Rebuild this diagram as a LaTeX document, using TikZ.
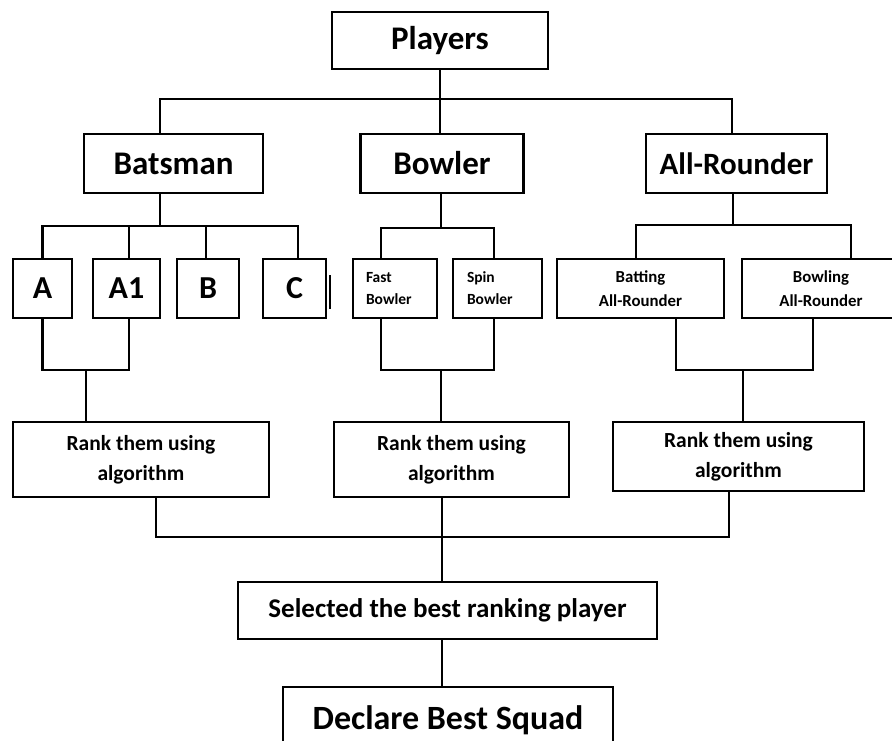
\documentclass[tikz,border=0pt]{standalone}
\usepackage{fontspec}
\setmainfont{Carlito}
\begin{document}
\begin{tikzpicture}[x=1pt,y=-1pt,
  box/.style={draw=black,line width=2.2pt,inner sep=0pt,fill=white,font=\bfseries},
  big/.style={box,font=\fontsize{33}{38}\selectfont\bfseries},
  rankbox/.style={box,align=center,font=\fontsize{21.5}{30}\selectfont\bfseries},
  smallbox/.style={box,align=left,font=\fontsize{15.5}{22}\selectfont\bfseries},
  arbox/.style={box,align=center,font=\fontsize{16.8}{24}\selectfont\bfseries},
  conn/.style={line width=2.2pt,line cap=rect}]
\fill[white] (0,0) rectangle (892,740);
\useasboundingbox (0,0) rectangle (892,740);

% level 0
\node[big,minimum width=216pt,minimum height=57pt] (players) at (440,40.5) {Players};
% level 1
\node[big,minimum width=179pt,minimum height=59pt] (batsman) at (173.5,163.5) {Batsman};
\node[big,minimum width=163pt,minimum height=59pt] (bowler) at (442,163.5) {Bowler};
\node[big,minimum width=181pt,minimum height=59pt,font=\fontsize{31}{36}\selectfont\bfseries] (allr) at (736.5,163.5) {All-Rounder};
% level 2
\node[big,minimum width=59pt,minimum height=59pt,font=\fontsize{32}{36}\selectfont\bfseries] (A) at (42.5,288.5) {A};
\node[big,minimum width=67pt,minimum height=59pt,font=\fontsize{32}{36}\selectfont\bfseries] (A1) at (126.5,288.5) {A1};
\node[big,minimum width=62pt,minimum height=59pt,font=\fontsize{32}{36}\selectfont\bfseries] (B) at (208,288.5) {B};
\node[big,minimum width=63pt,minimum height=59pt,font=\fontsize{32}{36}\selectfont\bfseries] (C) at (294.5,288.5) {C};
\node[smallbox,minimum width=84pt,minimum height=59pt,text width=58pt] (fast) at (395,288.5) {Fast\\Bowler};
\node[smallbox,minimum width=89pt,minimum height=59pt,text width=61pt] (spin) at (497.5,288.5) {Spin\\Bowler};
\node[arbox,minimum width=167pt,minimum height=59pt] (batAR) at (640.5,288.5) {Batting\\All-Rounder};
\node[arbox,minimum width=158pt,minimum height=59pt] (bowlAR) at (821,288.5) {Bowling\\All-Rounder};
% level 3
\node[rankbox,minimum width=256pt,minimum height=75pt] (rank1) at (141,459.5) {Rank them using\\algorithm};
\node[rankbox,minimum width=235pt,minimum height=75pt] (rank2) at (451.5,459.5) {Rank them using\\algorithm};
\node[rankbox,minimum width=251pt,minimum height=69pt] (rank3) at (738.5,456.5) {Rank them using\\algorithm};
% level 4
\node[box,minimum width=419pt,minimum height=57pt,font=\fontsize{27}{32}\selectfont\bfseries] (selected) at (447.5,610.5) {Selected the best ranking player};
\node[box,minimum width=330pt,minimum height=73pt,font=\fontsize{34}{40}\selectfont\bfseries] (declare) at (448,723.5) {\raisebox{12pt}{Declare Best Squad}};

% junctions
\coordinate (bus1) at (440,99);
\coordinate (bus2) at (160,226);
\coordinate (bus3) at (441,228);
\coordinate (bus4) at (733,225);
\coordinate (m1) at (86,370);
\coordinate (m2) at (441,370);
\coordinate (m3) at (743,370);
\coordinate (m4) at (442,537);

% players -> categories
\draw[conn] (players.south) -- (bus1);
\draw[conn] ([xshift=-13.5pt]batsman.north) |- (bus1) -| ([xshift=-4.5pt]allr.north);
\draw[conn] (bus1) -- (bowler.north -| bus1);

% batsman -> A, A1, B, C
\draw[conn] ([xshift=-13.5pt]batsman.south) -- (bus2);
\draw[conn] (A.north) |- (bus2) -| ([xshift=3.5pt]C.north);
\draw[conn] ([xshift=2.5pt]A1.north) -- ([xshift=2.5pt]A1.north |- bus2);
\draw[conn] ([xshift=-2pt]B.north) -- ([xshift=-2pt]B.north |- bus2);

% bowler -> fast, spin
\draw[conn] (bowler.south -| bus3) -- (bus3);
\draw[conn] ([xshift=-14pt]fast.north) |- (bus3) -| ([xshift=-3.5pt]spin.north);

% all-rounder -> batting, bowling
\draw[conn] (allr.south -| bus4) -- (bus4);
\draw[conn] ([xshift=-4.5pt]batAR.north) |- (bus4) -| ([xshift=30pt]bowlAR.north);

% merges into rank boxes
\draw[conn] (A.south) |- (m1) -| ([xshift=2.5pt]A1.south);
\draw[conn] (m1) -- (rank1.north -| m1);
\draw[conn] ([xshift=-14pt]fast.south) |- (m2) -| ([xshift=-3.5pt]spin.south);
\draw[conn] (m2) -- (rank2.north -| m2);
\draw[conn] ([xshift=35.5pt]batAR.south) |- (m3) -| ([xshift=-8pt]bowlAR.south);
\draw[conn] (m3) -- (rank3.north -| m3);

% final merge
\draw[conn] ([xshift=15pt]rank1.south) |- (m4) -| ([xshift=-9.5pt]rank3.south);
\draw[conn] (rank2.south -| m4) -- (m4);
\draw[conn] (m4) -- (selected.north -| m4);
\draw[conn] (selected.south -| m4) -- (declare.north -| m4);

% stray stroke beside C
\draw[line width=2.6pt] ([xshift=3pt,yshift=-20.5pt]C.east) -- ([xshift=3pt,yshift=13.5pt]C.east);
\end{tikzpicture}
\end{document}
